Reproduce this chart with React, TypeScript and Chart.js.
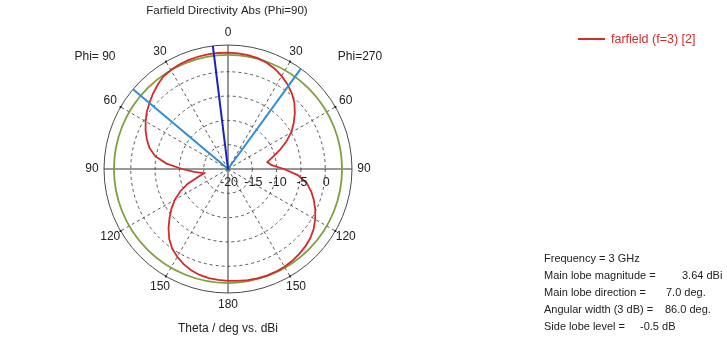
import React, { useEffect, useRef } from 'react';
import { Chart, registerables } from 'chart.js';

Chart.register(...registerables);

// ---- data ----
const thetaDeg = [0, 5, 10, 15, 20, 25, 30, 35, 40, 45, 50, 55, 60, 65, 70, 75, 80, 85, 90, 95, 100, 105, 110, 115, 120, 125, 130, 135, 140, 145, 150, 155, 160, 165, 170, 175, 180];
// Phi = 270 half (right side of the plot), dBi
const dirPhi270 = [3.92, 3.88, 3.8, 3.6, 3.25, 2.75, 2.05, 1.3, 0.4, -0.7, -2.05, -3.5, -5.0, -6.8, -8.7, -10.5, -11.8, -11.0, -8.5, -5.6, -3.6, -2.3, -1.2, -0.2, 0.7, 1.5, 2.1, 2.5, 2.8, 3.05, 3.22, 3.3, 3.32, 3.3, 3.2, 3.1, 3.0];
// Phi = 90 half (left side of the plot), dBi
const dirPhi90 = [3.92, 3.95, 3.95, 3.9, 3.82, 3.72, 3.5, 3.2, 2.55, 1.85, 1.1, 0.4, -0.45, -1.3, -2.25, -3.3, -4.8, -7.3, -10.6, -13.0, -15.0, -13.6, -11.2, -9.2, -7.4, -5.8, -4.3, -2.7, -1.2, 0.0, 0.85, 1.6, 2.15, 2.55, 2.78, 2.9, 3.0];

const radialTicks = [-20, -15, -10, -5, 0];
const angleTicks = [0, 30, 60, 90, 120, 150, 180, 210, 240, 270, 300, 330];
const radialMin = -20;
const radialMax = 5.5;
const mainLobeCircleLevel = 3.45;

const seriesName = 'farfield (f=3) [2]';
const titleText = 'Farfield Directivity Abs (Phi=90)';
const axisText = 'Theta / deg vs. dBi';
const frequencyGHz = 3;
const mainLobeMagnitude = 3.64;
const mainLobeDirection = 7.0;
const angularWidth = 86.0;
const sideLobeLevel = -0.5;

const RED = '#d42a2a';
const GREEN = '#7f9e3c';
const DARK_BLUE = '#1a22b8';
const LIGHT_BLUE = '#2f8ed6';
const GRID = '#555555';
const FONT = '"Liberation Sans", Arial, sans-serif';

// clockwise angles around the whole circle: right half = Phi 270, left half = Phi 90
const ringAngles: number[] = [];
const ringValues: number[] = [];
thetaDeg.forEach((t, i) => { ringAngles.push(t); ringValues.push(dirPhi270[i]); });
for (let i = thetaDeg.length - 2; i >= 1; i--) { ringAngles.push(360 - thetaDeg[i]); ringValues.push(dirPhi90[i]); }

const overlay = {
  id: 'farfieldOverlay',
  beforeDatasetsDraw(chart: any) {
    const s = chart.scales.r;
    const ctx = chart.ctx as CanvasRenderingContext2D;
    const xc = s.xCenter, yc = s.yCenter, R = s.drawingArea;
    ctx.save();
    ctx.strokeStyle = '#4a4a4a';
    ctx.lineWidth = 1;
    ctx.beginPath(); ctx.arc(xc, yc, R, 0, Math.PI * 2); ctx.stroke();
    ctx.strokeStyle = GREEN;
    ctx.lineWidth = 1.8;
    ctx.beginPath(); ctx.arc(xc, yc, s.getDistanceFromCenterForValue(mainLobeCircleLevel), 0, Math.PI * 2); ctx.stroke();
    ctx.restore();
  },
  afterDatasetsDraw(chart: any) {
    const s = chart.scales.r;
    const ctx = chart.ctx as CanvasRenderingContext2D;
    const xc = s.xCenter, yc = s.yCenter, R = s.drawingArea;
    const pos = (a: number, r: number) => ({ x: xc + r * Math.sin(a * Math.PI / 180), y: yc - r * Math.cos(a * Math.PI / 180) });
    ctx.save();
    // beam lines
    const line = (a: number, color: string, w: number) => {
      const p = pos(a, R);
      ctx.strokeStyle = color; ctx.lineWidth = w;
      ctx.beginPath(); ctx.moveTo(xc, yc); ctx.lineTo(p.x, p.y); ctx.stroke();
    };
    line(360 - (mainLobeDirection + angularWidth / 2), LIGHT_BLUE, 2);
    line(angularWidth / 2 - mainLobeDirection, LIGHT_BLUE, 2);
    line(360 - mainLobeDirection, DARK_BLUE, 2);
    // tick dots on outer circle
    ctx.fillStyle = '#222';
    angleTicks.forEach(a => { if (a % 90 !== 0) { const p = pos(a, R); ctx.fillRect(p.x - 1, p.y - 1, 2, 2); } });
    // angle labels
    ctx.fillStyle = '#222';
    ctx.font = `12px ${FONT}`;
    ctx.textAlign = 'center';
    ctx.textBaseline = 'middle';
    angleTicks.forEach(a => {
      const p = pos(a, R + 12);
      ctx.fillText(String(a <= 180 ? a : 360 - a), p.x, p.y);
    });
    // radial tick labels along the right horizontal axis
    ctx.font = `12.5px ${FONT}`;
    radialTicks.forEach(v => {
      ctx.fillText(String(v), xc + s.getDistanceFromCenterForValue(v) + 1, yc + 14);
    });
    ctx.font = `12px ${FONT}`;
    ctx.fillText('Phi= 90', 95, 57);
    ctx.fillText('Phi=270', 360, 57);
    ctx.font = `11.5px ${FONT}`;
    ctx.fillText(titleText, xc - 1, 11);
    ctx.font = `12px ${FONT}`;
    ctx.fillText(axisText, xc, 329);
    // legend
    ctx.strokeStyle = RED; ctx.lineWidth = 2;
    ctx.beginPath(); ctx.moveTo(578, 39); ctx.lineTo(605, 39); ctx.stroke();
    ctx.fillStyle = RED;
    ctx.textAlign = 'left';
    ctx.font = `12.5px ${FONT}`;
    ctx.fillText(seriesName, 611, 40);
    // info block
    ctx.fillStyle = '#222';
    ctx.font = `11px ${FONT}`;
    const info: [string, string, number][] = [
      [`Frequency = ${frequencyGHz} GHz`, '', 0],
      ['Main lobe magnitude =', `${mainLobeMagnitude.toFixed(2)} dBi`, 682],
      ['Main lobe direction =', `${mainLobeDirection.toFixed(1)} deg.`, 666],
      ['Angular width (3 dB) =', `${angularWidth.toFixed(1)} deg.`, 665],
      ['Side lobe level =', `${sideLobeLevel.toFixed(1)} dB`, 640],
    ];
    info.forEach(([lab, val, vx], i) => {
      const y = 259 + i * 17;
      ctx.fillText(lab, 544, y);
      if (val) ctx.fillText(val, vx, y);
    });
    ctx.restore();
  },
};

export default function App() {
  const ref = useRef<HTMLCanvasElement>(null);
  useEffect(() => {
    document.body.style.margin = '0';
    const R = 124;
    const cx = 228, cy = 169, W = 727, H = 343;
    const chart = new Chart(ref.current!, {
      type: 'radar',
      data: {
        labels: ringAngles.map(a => String(a)),
        datasets: [{
          label: seriesName,
          data: ringValues,
          borderColor: RED,
          borderWidth: 1.8,
          pointRadius: 0,
          fill: false,
          tension: 0,
        }],
      },
      options: {
        responsive: false,
        animation: false,
        layout: { padding: { left: cx - R, right: W - cx - R, top: cy - R, bottom: H - cy - R } },
        plugins: { legend: { display: false }, tooltip: { enabled: false } },
        scales: {
          r: {
            min: radialMin,
            max: radialMax,
            startAngle: 0,
            ticks: { display: false, stepSize: 5 },
            pointLabels: { display: false },
            grid: {
              circular: true,
              lineWidth: 1,
              color: (c: any) => (radialTicks.includes(c.tick?.value) && c.tick.value > radialMin ? GRID : 'rgba(0,0,0,0)'),
              borderDash: [3, 3],
            },
            border: { dash: [3, 3] },
            angleLines: {
              display: true,
              lineWidth: 1,
              color: (c: any) => {
                const a = ringAngles[c.index];
                if (a % 90 === 0) return '#333';
                if (a % 30 === 0) return GRID;
                return 'rgba(0,0,0,0)';
              },
              borderDash: (c: any) => (ringAngles[c.index] % 90 === 0 ? [] : [3, 3]),
            },
          } as any,
        },
      },
      plugins: [overlay],
    });
    return () => chart.destroy();
  }, []);
  return (
    <div style={{ width: 727, height: 343, background: '#fff' }}>
      <canvas ref={ref} width={727} height={343} />
    </div>
  );
}
